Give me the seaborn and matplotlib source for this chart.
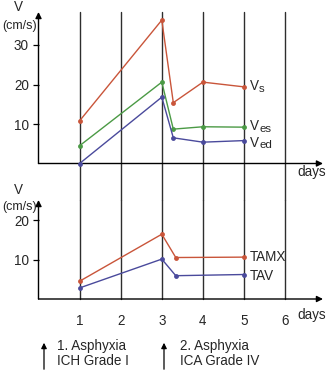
import matplotlib
matplotlib.use("Agg")
import matplotlib.pyplot as plt
import seaborn as sns
import pandas as pd
from matplotlib.transforms import offset_copy

# ---- data ----
days_top = [1, 3, 3.28, 4, 5]
vs = [10.8, 36.3, 15.4, 20.6, 19.4]
ves = [4.5, 20.6, 8.7, 9.3, 9.2]
ved = [0.0, 16.8, 6.5, 5.4, 5.8]

days_bottom = [1, 3, 3.34, 5]
tamx = [4.5, 16.4, 10.5, 10.6]
tav = [2.8, 10.1, 5.9, 6.2]

day_ticks = [1, 2, 3, 4, 5, 6]
top_yticks = [10, 20, 30]
bottom_yticks = [10, 20]

sns.set_theme(style="white")
plt.rcParams['font.family'] = ['Liberation Sans', 'DejaVu Sans']

RED = "#c9553a"
GREEN = "#4b9a45"
BLUE = "#4a4a9c"
GRID = "#2e2e2e"

W, H = 327, 370
fig = plt.figure(figsize=(W / 100, H / 100), dpi=100)

x0_px, x1_px = 38.5, 323.0
day_px = 41.1
xmax = (x1_px - x0_px) / day_px

def fr_y(py):
    return (H - py) / H

ax_top = fig.add_axes([x0_px / W, fr_y(163.5), (x1_px - x0_px) / W, (163.5 - 12) / H])
ax_bot = fig.add_axes([x0_px / W, fr_y(299), (x1_px - x0_px) / W, (299 - 200) / H])

px_per_unit = 3.95
top_ylim = (163.5 - 12) / px_per_unit
bot_ylim = (299 - 200) / px_per_unit

for ax, ylim in ((ax_top, top_ylim), (ax_bot, bot_ylim)):
    ax.set_xlim(0, xmax)
    ax.set_ylim(0, ylim)
    for s in ax.spines.values():
        s.set_visible(False)
    ax.patch.set_alpha(0)
    ax.annotate("", xy=(1.0, 0), xytext=(0.0, 0), xycoords="axes fraction",
                arrowprops=dict(arrowstyle="-|>", color="black", lw=1.0,
                                mutation_scale=9, shrinkA=0, shrinkB=0))
    ax.annotate("", xy=(0.0, 1.0), xytext=(0.0, 0), xycoords="axes fraction",
                arrowprops=dict(arrowstyle="-|>", color="black", lw=1.0,
                                mutation_scale=9, shrinkA=0, shrinkB=0))

# vertical day lines spanning both panels
gap_units = (200 - 163.5) / px_per_unit
for d in day_ticks:
    ax_top.plot([d, d], [-gap_units, top_ylim], color=GRID, lw=1.0, clip_on=False, zorder=1)
    ax_bot.plot([d, d], [0, bot_ylim], color=GRID, lw=1.0, clip_on=False, zorder=1)

df_top = pd.DataFrame({"day": days_top * 3,
                       "v": vs + ves + ved,
                       "series": ["Vs"] * 5 + ["Ves"] * 5 + ["Ved"] * 5})
sns.lineplot(data=df_top, x="day", y="v", hue="series", ax=ax_top,
             palette={"Vs": RED, "Ves": GREEN, "Ved": BLUE}, marker="o",
             markersize=3.5, markeredgewidth=0, lw=1.0, legend=False,
             sort=False, estimator=None, zorder=3, clip_on=False)

df_bot = pd.DataFrame({"day": days_bottom * 2,
                       "v": tamx + tav,
                       "series": ["TAMX"] * 4 + ["TAV"] * 4})
sns.lineplot(data=df_bot, x="day", y="v", hue="series", ax=ax_bot,
             palette={"TAMX": RED, "TAV": BLUE}, marker="o",
             markersize=3.5, markeredgewidth=0, lw=1.0, legend=False,
             sort=False, estimator=None, zorder=3, clip_on=False)

fs = 13.5 * 72 / 100  # ~13.5 px

for ax, ticks in ((ax_top, top_yticks), (ax_bot, bottom_yticks)):
    ax.set_yticks(ticks)
    ax.set_yticklabels([str(t) for t in ticks], fontsize=fs)
    ax.tick_params(axis="y", left=True, length=4, width=0.9, color="black", pad=3)
    ax.set_xlabel("")
    ax.set_ylabel("")

ax_top.set_xticks([])
ax_bot.set_xticks(day_ticks)
ax_bot.set_xticklabels([str(d) for d in day_ticks], fontsize=fs)
ax_bot.tick_params(axis="x", bottom=False, length=0, pad=11)

def sublabel(ax, x, y, main, sub):
    ax.text(x, y, main, fontsize=fs, va="center", ha="left")
    tr = offset_copy(ax.transData, fig=fig, x=9.0, y=-2.5, units="dots")
    ax.text(x, y, sub, fontsize=fs * 0.85, va="center", ha="left", transform=tr)

lx = 5.15
sublabel(ax_top, lx, 19.6, "V", "s")
sublabel(ax_top, lx, 9.4, "V", "es")
sublabel(ax_top, lx, 5.3, "V", "ed")
ax_bot.text(lx, 10.7, "TAMX", fontsize=fs, va="center", ha="left")
ax_bot.text(lx, 5.9, "TAV", fontsize=fs, va="center", ha="left")

unit_fs = fs * 0.93
fig.text(18 / W, fr_y(7), "V", fontsize=fs, ha="center", va="center")
fig.text(37 / W, fr_y(26), "(cm/s)", fontsize=unit_fs, ha="right", va="center")
fig.text(18 / W, fr_y(190), "V", fontsize=fs, ha="center", va="center")
fig.text(37 / W, fr_y(207), "(cm/s)", fontsize=unit_fs, ha="right", va="center")
fig.text(312 / W, fr_y(172), "days", fontsize=fs, ha="center", va="center")
fig.text(312 / W, fr_y(315), "days", fontsize=fs, ha="center", va="center")

for ax_px, tx_px, l1, l2 in ((44, 57, "1. Asphyxia", "ICH Grade I"),
                             (164, 180, "2. Asphyxia", "ICA Grade IV")):
    fig.patches.append(matplotlib.patches.FancyArrowPatch(
        (ax_px / W, fr_y(372)), (ax_px / W, fr_y(340)), transform=fig.transFigure,
        arrowstyle="-|>", mutation_scale=8, lw=0.9, color="black"))
    fig.text(tx_px / W, fr_y(346), l1, fontsize=fs, ha="left", va="center")
    fig.text(tx_px / W, fr_y(361), l2, fontsize=fs, ha="left", va="center")

fig.savefig("out.png", dpi=100)
